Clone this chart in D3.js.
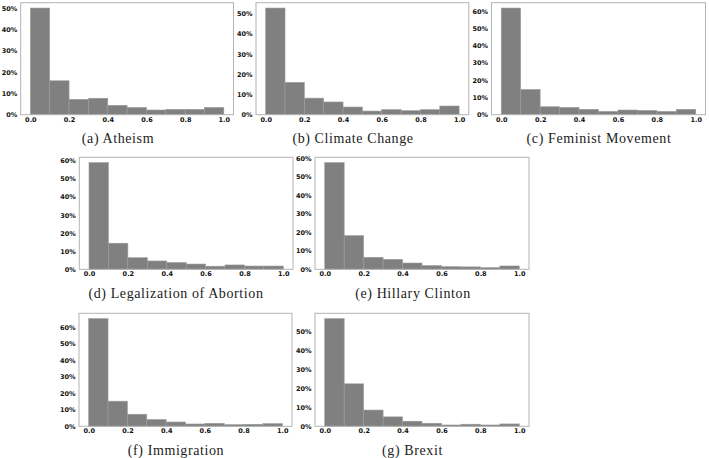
<!DOCTYPE html>
<html><head><meta charset="utf-8">
<script src="https://cdn.jsdelivr.net/npm/d3@7"></script>
<style>
html,body{margin:0;padding:0;background:#fff;}
svg{display:block;}
.tick text{font-family:"DejaVu Sans",sans-serif;font-weight:bold;font-size:6.5px;fill:#111;}
.cap{font-family:"Liberation Serif","Times New Roman",serif;font-size:14px;fill:#222;letter-spacing:0.6px;}
</style>
</head><body>
<script>
// bin edges (0.0..1.0 in 10 bins)
const binEdges = [0,0.1,0.2,0.3,0.4,0.5,0.6,0.7,0.8,0.9,1.0];
const xTicks = [0,0.2,0.4,0.6,0.8,1.0];
const captions = ["(a) Atheism","(b) Climate Change","(c) Feminist Movement",
  "(d) Legalization of Abortion","(e) Hillary Clinton","(f) Immigration","(g) Brexit"];
// percent of samples per bin
const atheism      = [50.0,15.9,7.2,7.7,4.4,3.4,2.2,2.5,2.5,3.4];
const climate      = [52.8,16.0,8.2,6.3,3.8,1.8,2.5,2.0,2.5,4.3];
const feminist     = [61.7,14.6,4.6,4.2,3.1,1.9,2.7,2.5,1.9,3.1];
const abortion     = [58.9,14.4,6.4,4.6,3.7,2.9,1.7,2.4,1.8,1.8];
const hillary      = [57.7,18.2,6.5,5.4,3.4,2.0,1.4,1.3,0.9,1.8];
const immigration  = [65.1,15.2,7.3,4.1,2.6,1.4,1.8,1.0,1.2,1.6];
const brexit       = [57.0,22.5,8.6,5.0,2.7,1.6,0.7,1.1,0.7,1.25];
const seriesList = [atheism,climate,feminist,abortion,hillary,immigration,brexit];

// layout (frame boxes + caption anchors)
const layout = [
  {x0:20.7,x1:233.5,y0:2.7,y1:114.7,cx:118,cy:143.3},
  {x0:256,x1:468.8,y0:2.7,y1:114.7,cx:353,cy:143.3},
  {x0:491.5,x1:705.5,y0:2.7,y1:114.7,cx:599,cy:143.3},
  {x0:79.3,x1:293,y0:157.3,y1:269.3,cx:176,cy:298.3},
  {x0:315,x1:529,y0:157.3,y1:269.3,cx:413,cy:298.3},
  {x0:79,x1:292,y0:313.3,y1:426.3,cx:176,cy:455},
  {x0:315,x1:529,y0:313.3,y1:426.3,cx:412.5,cy:455}
];

const svg = d3.select("body").append("svg").attr("width",709).attr("height",458);

seriesList.forEach((vals,i)=>{
  const L = layout[i];
  const ymax = d3.max(vals)*1.05;
  const x = d3.scaleLinear().domain([-0.05,1.05]).range([L.x0,L.x1]);
  const y = d3.scaleLinear().domain([0,ymax]).range([L.y1,L.y0]);
  const g = svg.append("g");
  const bins = vals.map((v,j)=>({a:binEdges[j],b:binEdges[j+1],v}));
  g.selectAll("rect.bar").data(bins).join("rect").attr("class","bar")
    .attr("x",d=>x(d.a)).attr("width",d=>x(d.b)-x(d.a))
    .attr("y",d=>y(d.v)).attr("height",d=>y(0)-y(d.v))
    .attr("fill","#808080").attr("stroke","#9c9c9c").attr("stroke-width",0.6);
  // frame
  g.append("rect").attr("x",L.x0).attr("y",L.y0).attr("width",L.x1-L.x0).attr("height",L.y1-L.y0)
    .attr("fill","none").attr("stroke","#b4b4b4").attr("stroke-width",1);
  const yTicks = d3.range(0,ymax+1e-9,10);
  const ya = d3.axisLeft(y).tickValues(yTicks).tickFormat(d=>d+"%").tickSize(0).tickPadding(3.5);
  const yg = g.append("g").attr("transform",`translate(${L.x0},0)`).call(ya);
  yg.select(".domain").remove();
  const xa = d3.axisBottom(x).tickValues(xTicks).tickFormat(d3.format(".1f")).tickSize(0).tickPadding(2.2);
  const xg = g.append("g").attr("transform",`translate(0,${L.y1})`).call(xa);
  xg.select(".domain").remove();
  svg.append("text").attr("class","cap").attr("x",L.cx).attr("y",L.cy)
    .attr("text-anchor","middle").text(captions[i]);
});
</script>
</body></html>
